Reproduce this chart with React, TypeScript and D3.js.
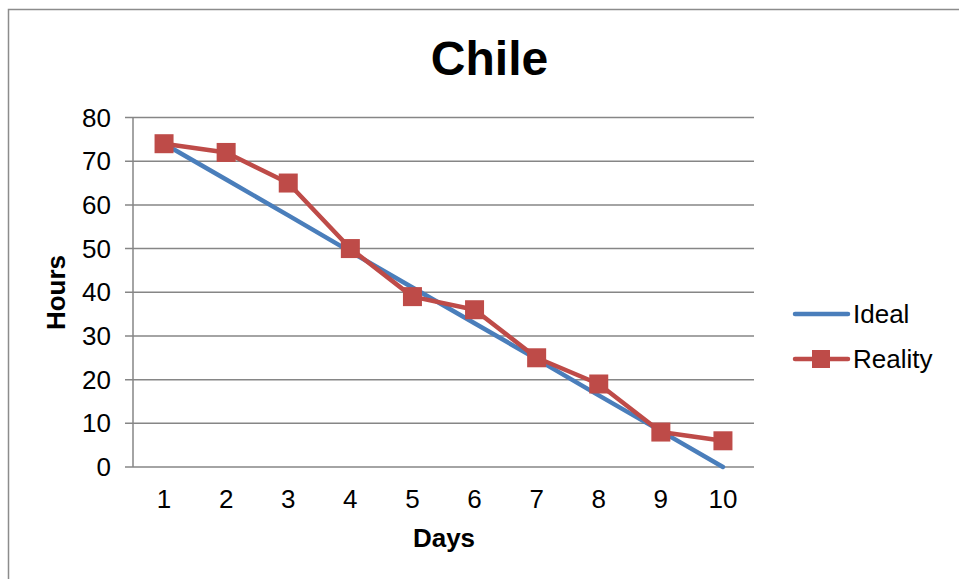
import React from "react";
import * as d3 from "d3";

const days = [1, 2, 3, 4, 5, 6, 7, 8, 9, 10];
const ideal = [74, 65.8, 57.6, 49.3, 41.1, 32.9, 24.7, 16.4, 8.2, 0];
const reality = [74, 72, 65, 50, 39, 36, 25, 19, 8, 6];
const yTicks = [0, 10, 20, 30, 40, 50, 60, 70, 80];

const W = 959;
const H = 579;
const plot = { left: 133, right: 754, top: 117.5, bottom: 467 };
const BLUE = "#4A7EBB";
const RED = "#BE4B48";
const GRID = "#868686";
const FONT = "'Liberation Sans', Arial, sans-serif";
const FS = 26;

export default function App() {
  const x = d3
    .scaleBand<number>()
    .domain(days)
    .range([plot.left, plot.right]);
  const y = d3.scaleLinear().domain([0, 80]).range([plot.bottom, plot.top]);
  const cx = (d: number) => (x(d) ?? 0) + x.bandwidth() / 2;

  const line = d3
    .line<number>()
    .x((_, i) => cx(days[i]))
    .y((v) => y(v));

  const m = 19;

  return (
    <svg
      width={W}
      height={H}
      style={{ position: "absolute", left: 0, top: 0, background: "#fff" }}
      fontFamily={FONT}
    >
      <rect x={8.5} y={9.5} width={W + 10} height={H + 10} fill="#fff" stroke="#8c8c8c" strokeWidth={1.5} />

      <text x={489.5} y={75} textAnchor="middle" fontSize={48} fontWeight="bold" fill="#000">
        Chile
      </text>

      {yTicks.map((t) => (
        <g key={t}>
          <line x1={plot.left - 8} x2={plot.right} y1={y(t)} y2={y(t)} stroke={GRID} strokeWidth={1.5} />
          <text x={111} y={y(t) + 9} textAnchor="end" fontSize={FS} fill="#000">
            {t}
          </text>
        </g>
      ))}
      <line x1={plot.left} x2={plot.left} y1={plot.top} y2={plot.bottom} stroke={GRID} strokeWidth={1.5} />

      {days.map((d) => (
        <text key={d} x={cx(d)} y={508} textAnchor="middle" fontSize={FS} fill="#000">
          {d}
        </text>
      ))}

      <text x={444} y={547} textAnchor="middle" fontSize={FS} fontWeight="bold" fill="#000">
        Days
      </text>
      <text
        transform={`translate(65,292.5) rotate(-90)`}
        textAnchor="middle"
        fontSize={FS}
        fontWeight="bold"
        fill="#000"
      >
        Hours
      </text>

      <path d={line(ideal) ?? ""} fill="none" stroke={BLUE} strokeWidth={4.5} strokeLinecap="round" />
      <path d={line(reality) ?? ""} fill="none" stroke={RED} strokeWidth={4.5} strokeLinejoin="round" />
      {reality.map((v, i) => (
        <rect key={i} x={cx(days[i]) - m / 2} y={y(v) - m / 2} width={m} height={m} fill={RED} />
      ))}

      <line x1={795} x2={848} y1={314} y2={314} stroke={BLUE} strokeWidth={4.5} strokeLinecap="round" />
      <text x={853} y={323} fontSize={FS} fill="#000">Ideal</text>
      <line x1={795} x2={848} y1={359} y2={359} stroke={RED} strokeWidth={4.5} strokeLinecap="round" />
      <rect x={821 - 9} y={359 - 9} width={18} height={18} fill={RED} />
      <text x={853} y={368} fontSize={FS} fill="#000">Reality</text>
    </svg>
  );
}
